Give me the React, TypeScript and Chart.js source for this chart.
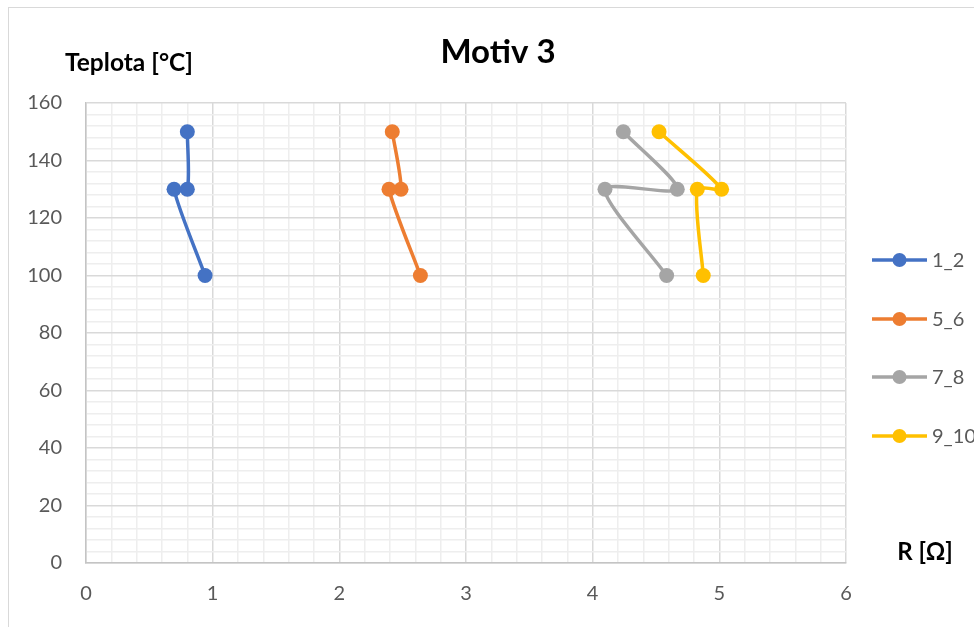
import React, { useEffect, useRef } from "react";
import { Chart, registerables } from "chart.js";

Chart.register(...registerables);

const seriesNames = ["1_2", "5_6", "7_8", "9_10"];
const seriesColors = ["#4472C4", "#ED7D31", "#A5A5A5", "#FFC000"];
const s12X = [0.8, 0.8, 0.695, 0.94];
const s12Y = [150, 130, 130, 100];
const s56X = [2.418, 2.487, 2.392, 2.64];
const s56Y = [150, 130, 130, 100];
const s78X = [4.242, 4.668, 4.097, 4.584];
const s78Y = [150, 130, 130, 100];
const s910X = [4.524, 5.018, 4.826, 4.873];
const s910Y = [150, 130, 130, 100];
const xTickLabels = ["0", "1", "2", "3", "4", "5", "6"];
const yTickLabels = ["0", "20", "40", "60", "80", "100", "120", "140", "160"];

const chartTitle = "Motiv 3";
const yAxisTitle = "Teplota [°C]";
const xAxisTitle = "R [Ω]";

const FONT = "Lato, 'Open Sans', sans-serif";

const isWhole = (v: number) => Math.abs(v - Math.round(v)) < 1e-6;

export default function App() {
  const ref = useRef<HTMLCanvasElement | null>(null);

  useEffect(() => {
    const canvas = ref.current;
    if (!canvas) return;
    const xs = [s12X, s56X, s78X, s910X];
    const ys = [s12Y, s56Y, s78Y, s910Y];
    const datasets = seriesNames.map((name, i) => ({
      label: name,
      data: xs[i].map((x, j) => ({ x, y: ys[i][j] })),
      showLine: true,
      tension: 0.25,
      borderColor: seriesColors[i],
      backgroundColor: seriesColors[i],
      borderWidth: 3.5,
      pointRadius: 7.5,
      pointHoverRadius: 7.5,
      pointBackgroundColor: seriesColors[i],
      pointBorderColor: seriesColors[i],
      pointBorderWidth: 0,
    }));

    const decor = {
      id: "decor",
      beforeDraw(chart: any) {
        const ctx = chart.ctx;
        ctx.save();
        ctx.fillStyle = "#ffffff";
        ctx.fillRect(0, 0, chart.width, chart.height);
        ctx.strokeStyle = "#d9d9d9";
        ctx.lineWidth = 1;
        ctx.strokeRect(8.5, 7.5, 2000, 2000);
        ctx.restore();
      },
      afterDraw(chart: any) {
        const ctx = chart.ctx;
        ctx.save();
        ctx.fillStyle = "#000000";
        ctx.textBaseline = "middle";
        ctx.textAlign = "center";
        ctx.font = `bold 33px ${FONT}`;
        ctx.fillText(chartTitle, 498, 52);
        ctx.font = `bold 24.5px ${FONT}`;
        ctx.fillText(yAxisTitle, 129, 63);
        ctx.font = `bold 24px ${FONT}`;
        ctx.fillText(xAxisTitle, 925, 552);
        // legend
        const ys = [260, 319, 377, 436];
        ctx.textAlign = "left";
        ctx.font = `20px ${FONT}`;
        seriesNames.forEach((name, i) => {
          const y = ys[i];
          ctx.strokeStyle = seriesColors[i];
          ctx.lineWidth = 3.5;
          ctx.beginPath();
          ctx.moveTo(872, y);
          ctx.lineTo(927, y);
          ctx.stroke();
          ctx.fillStyle = seriesColors[i];
          ctx.beginPath();
          ctx.arc(899.5, y, 7, 0, Math.PI * 2);
          ctx.fill();
          ctx.fillStyle = "#595959";
          ctx.fillText(name, 932, y + 1);
        });
        ctx.restore();
      },
    };

    const chart = new Chart(canvas, {
      type: "scatter",
      data: { datasets },
      options: {
        animation: false,
        responsive: false,
        maintainAspectRatio: false,
        layout: { padding: { left: 6, top: 103, right: 128, bottom: 24 } },
        plugins: { legend: { display: false }, title: { display: false }, tooltip: { enabled: false } },
        scales: {
          x: {
            type: "linear",
            min: 0,
            max: 6,
            afterFit: (s: any) => {
              s.height = 40;
            },
            ticks: {
              stepSize: 0.2,
              autoSkip: false,
              maxRotation: 0,
              padding: 19,
              color: "#595959",
              font: { family: FONT, size: 20 },
              callback: (v: any) => (isWhole(Number(v)) ? xTickLabels[Math.round(Number(v))] : ""),
            },
            grid: {
              drawTicks: false,
              lineWidth: 1.5,
              color: (c: any) => (c.tick && isWhole(c.tick.value) ? "#d9d9d9" : "#eeeeee"),
            },
            border: { display: true, color: "#c4c4c4", width: 1.5 },
          },
          y: {
            type: "linear",
            min: 0,
            max: 160,
            afterFit: (s: any) => {
              s.width = 80;
            },
            ticks: {
              stepSize: 4,
              autoSkip: false,
              padding: 24,
              color: "#595959",
              font: { family: FONT, size: 20 },
              callback: (v: any) => {
                const n = Number(v);
                return n % 20 === 0 ? yTickLabels[n / 20] : "";
              },
            },
            grid: {
              drawTicks: false,
              lineWidth: 1.5,
              color: (c: any) => (c.tick && c.tick.value % 20 === 0 ? "#d9d9d9" : "#eeeeee"),
            },
            border: { display: true, color: "#c4c4c4", width: 1.5 },
          },
        },
      },
      plugins: [decor],
    } as any);

    return () => chart.destroy();
  }, []);

  return (
    <div style={{ position: "fixed", left: 0, top: 0, width: 974, height: 627, overflow: "hidden" }}>
      <canvas ref={ref} width={974} height={627} style={{ display: "block", width: 974, height: 627 }} />
    </div>
  );
}
